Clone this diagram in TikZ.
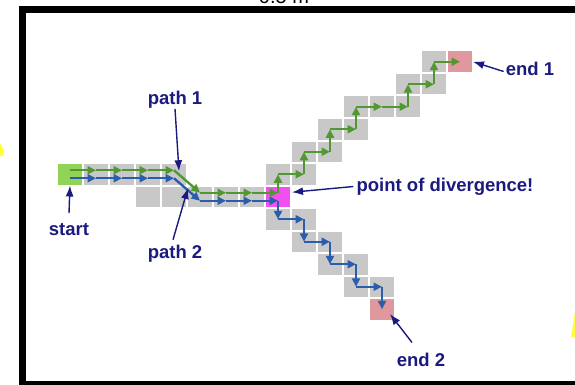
\documentclass[tikz,border=0pt]{standalone}
\usepackage{fontspec}
\setmainfont{Liberation Sans}
\usetikzlibrary{arrows.meta}

\definecolor{cellgray}{RGB}{200,200,200}
\definecolor{startgreen}{RGB}{146,210,86}
\definecolor{divmagenta}{RGB}{240,80,240}
\definecolor{endpink}{RGB}{222,152,158}
\definecolor{pgreen}{RGB}{82,152,48}
\definecolor{pblue}{RGB}{42,94,170}
\definecolor{navy}{RGB}{26,26,128}
\definecolor{marker}{RGB}{255,255,60}

\begin{document}
\begin{tikzpicture}[x=1pt,y=-1pt,
  cell/.style={fill=cellgray, draw=none, minimum width=24pt, minimum height=20.5pt, inner sep=0pt, outer sep=0pt},
  gp/.style={draw=pgreen, line width=2.4pt, -{Triangle[length=8.5pt,width=8pt]}},
  bp/.style={draw=pblue, line width=2.4pt, -{Triangle[length=8.5pt,width=8pt]}},
  lab/.style={text=navy, font=\fontsize{18.5}{20}\selectfont\bfseries, inner sep=0pt},
  callout/.style={draw=navy, line width=1.4pt, -{Latex[length=11pt,width=8pt]}}]

\useasboundingbox (0,0) rectangle (575,385);
\clip (0,0) rectangle (575,385);
\fill[white] (0,0) rectangle (575,385);

% caption line cut off at the top edge
\node[anchor=base, font=\fontsize{20}{22}\selectfont, inner sep=0pt] (cap) at (284,3.5) {0.5 m};

% yellow marker slivers at the edges
\fill[marker] (0,143) -- (4,150) -- (3.5,156) -- (0,156) -- cycle;
\fill[marker] (575,312) -- (571,337) -- (575,337) -- cycle;

% frame
\draw[line width=7pt] (22,10) rectangle (600,384.5);

% grid cells: name / column / row  (centre = 70+26*col, 174.25+22.5*row)
\foreach \n/\k/\j in {a1/1/0, a2/2/0, a3/3/0, a4/4/0,
                      b3/3/1, b4/4/1, b5/5/1, b6/6/1, b7/7/1,
                      u0a/8/0, u0b/9/0, u1a/9/-1, u1b/10/-1, u2a/10/-2, u2b/11/-2,
                      u3a/11/-3, u3b/12/-3, u3c/13/-3, u4a/13/-4, u4b/14/-4, u5a/14/-5,
                      d2a/8/2, d2b/9/2, d3a/9/3, d3b/10/3, d4a/10/4, d4b/11/4, d5a/11/5, d5b/12/5}
  \node[cell] (\n) at ({70+26*\k},{174.25+22.5*\j}) {};
\node[cell, fill=startgreen] (s) at (70,174.25) {};
\node[cell, fill=divmagenta] (m) at (278,196.75) {};
\node[cell, fill=endpink] (e1) at (460,61.75) {};
\node[cell, fill=endpink] (e2) at (382,309.25) {};

% path 2 (blue)
\foreach \p/\q in {s/a1, a1/a2, a2/a3, a3/a4, a4/b5, b5/b6, b6/b7, b7/m}
  \draw[bp] ([yshift=-4pt]\p.center) -- ([yshift=-4pt]\q.center);
\draw[bp] ([yshift=-4pt]m.center) -- (d2a.center);
\foreach \p/\q in {d2a/d2b, d2b/d3a, d3a/d3b, d3b/d4a, d4a/d4b, d4b/d5a, d5a/d5b, d5b/e2}
  \draw[bp] (\p.center) -- (\q.center);

% path 1 (green)
\foreach \p/\q in {s/a1, a1/a2, a2/a3, a3/a4, a4/b5, b5/b6, b6/b7, b7/m}
  \draw[gp] ([yshift=4pt]\p.center) -- ([yshift=4pt]\q.center);
\draw[gp] ([yshift=4pt]m.center) -- (u0a.center);
\foreach \p/\q in {u0a/u0b, u0b/u1a, u1a/u1b, u1b/u2a, u2a/u2b, u2b/u3a, u3a/u3b, u3b/u3c,
                   u3c/u4a, u4a/u4b, u4b/u5a, u5a/e1}
  \draw[gp] (\p.center) -- (\q.center);

% labels
\node[lab] (tstart) at (69,229.5) {start};
\node[lab] (tp1) at (175,100) {path 1};
\node[lab] (tp2) at (175,253.5) {path 2};
\node[lab] (tdiv) at (445,186.5) {point of divergence!};
\node[lab] (tend1) at (530,68.5) {end 1};
\node[lab] (tend2) at (421,359.5) {end 2};

% callout arrows
\draw[callout] ([yshift=10pt]tstart.north) -- ([yshift=-1pt]s.south);
\draw[callout] (tp1.south) -- ([xshift=5pt,yshift=3pt]a4.center);
\draw[callout] ([xshift=-2pt,yshift=5pt]tp2.north) -- ([xshift=2pt,yshift=-1.5pt]b4.north east);
\draw[callout] ([xshift=-3pt]tdiv.west) -- ([xshift=2pt,yshift=4.5pt]m.east);
\draw[callout] ([xshift=-2pt,yshift=-3pt]tend1.west) -- ([xshift=1pt]e1.east);
\draw[callout] ([xshift=-9pt,yshift=10pt]tend2.north) -- ([xshift=-4pt,yshift=5.5pt]e2.south east);
\end{tikzpicture}
\end{document}
